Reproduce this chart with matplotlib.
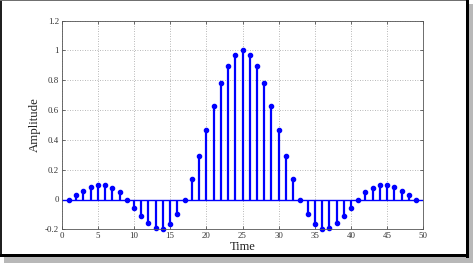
import matplotlib
matplotlib.use("Agg")
import matplotlib.pyplot as plt
from matplotlib.patches import Rectangle

time = list(range(1, 50))
amplitude = [0.0, 0.033, 0.06, 0.085, 0.098, 0.098, 0.08, 0.05, 0.0, -0.054,
             -0.11, -0.16, -0.19, -0.196, -0.167, -0.10, 0.0, 0.138, 0.295, 0.464,
             0.63, 0.78, 0.897, 0.973, 1.0, 0.973, 0.897, 0.78, 0.63, 0.464,
             0.295, 0.138, 0.0, -0.10, -0.167, -0.196, -0.19, -0.16, -0.11, -0.054,
             0.0, 0.05, 0.08, 0.098, 0.098, 0.085, 0.06, 0.033, 0.0]
xticks = [0, 5, 10, 15, 20, 25, 30, 35, 40, 45, 50]
yticks = [-0.2, 0, 0.2, 0.4, 0.6, 0.8, 1, 1.2]
yticklabels = ["-0.2", "0", "0.2", "0.4", "0.6", "0.8", "1", "1.2"]

plt.rcParams['font.family'] = ['Liberation Serif', 'DejaVu Serif']

W, H = 473, 263
fig = plt.figure(figsize=(W / 100, H / 100), dpi=100)
fig.patch.set_facecolor('white')

def px(x0, y0, w, h, **kw):
    fig.patches.append(Rectangle((x0 / W, 1 - (y0 + h) / H), w / W, h / H,
                                 transform=fig.transFigure, **kw))

# shadow
px(4, 255, 469, 8, facecolor='#b8b8b8', edgecolor='none', zorder=0)
px(466, 4, 7, 259, facecolor='#b8b8b8', edgecolor='none', zorder=0)
# frame
px(1, 1, 467, 255, facecolor='white', edgecolor='none', zorder=0.5)
px(0, 0, 1.5, 256, facecolor='#202020', edgecolor='none', zorder=1)
px(0, 0, 468, 1.2, facecolor='#707070', edgecolor='none', zorder=1)
px(465.5, 0, 3, 258, facecolor='black', edgecolor='none', zorder=1)
px(0, 253.5, 468, 3.5, facecolor='black', edgecolor='none', zorder=1)

ax = fig.add_axes([61.7 / W, 1 - 229.3 / H, (423.3 - 61.7) / W, (229.3 - 20.7) / H])
ax.set_zorder(5)
ax.set_xlim(0, 50)
ax.set_ylim(-0.2, 1.2)

ax.axhline(0, color='blue', lw=1.0, zorder=2)
ml, sl, bl = ax.stem(time, amplitude, linefmt='b-', markerfmt='bo', basefmt=' ')
sl.set_linewidth(1.6)
sl.set_color('blue')
ml.set_markersize(3.0)
ml.set_color('blue')
ml.set_clip_on(False)

ax.set_xticks(xticks)
ax.set_xticklabels([str(t) for t in xticks])
ax.set_yticks(yticks)
ax.set_yticklabels(yticklabels)
ax.grid(True, color='#a0a0a0', linestyle=(0, (1, 2)), linewidth=0.6)
ax.set_axisbelow(True)
ax.tick_params(direction='in', length=2.5, width=0.5, top=True, right=True,
               labelsize=6.4, colors='#333333', pad=2)
for s in ax.spines.values():
    s.set_linewidth(0.6)
    s.set_color('#555555')

ax.set_xlabel('Time', fontsize=9, labelpad=1, color='#222222')
ax.set_ylabel('Amplitude', fontsize=9.3, labelpad=3, color='#222222')

fig.savefig('out.png', dpi=100, facecolor=fig.get_facecolor())
